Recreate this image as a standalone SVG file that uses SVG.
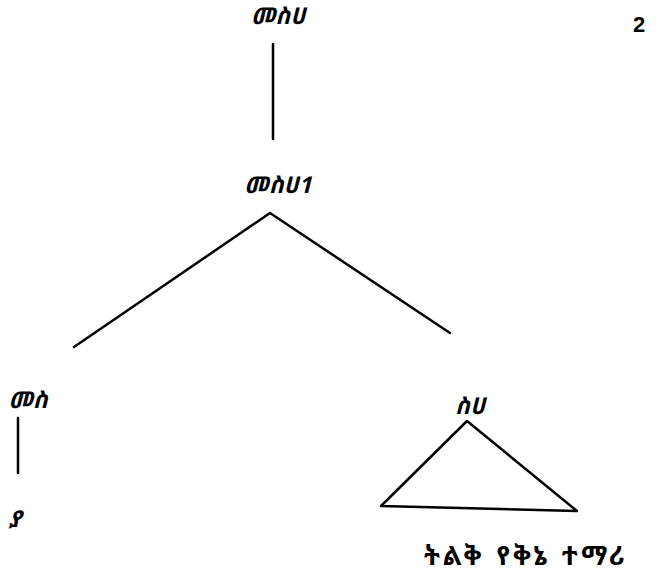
<svg xmlns="http://www.w3.org/2000/svg" width="659" height="577" viewBox="0 0 659 577">
<style>
.lbl{font-family:"Noto Sans Ethiopic","Abyssinica SIL","DejaVu Sans",sans-serif;font-weight:bold;font-style:italic;font-size:23px;fill:#000;text-anchor:middle}
.up{font-style:normal;font-size:26px;letter-spacing:3px;word-spacing:2px;text-anchor:start}
.num{font-family:"Liberation Sans",Arial,sans-serif;font-weight:bold;font-size:22px;fill:#000}
.ln{stroke:#000;stroke-width:2.5;fill:none;stroke-linecap:round;stroke-linejoin:round}
</style>
<rect width="659" height="577" fill="#fff"/>
<text class="num" x="633" y="32">2</text>
<g id="n-root"><text class="lbl" x="278" y="24">መስሀ</text></g>
<g id="n-bar"><text class="lbl" x="278" y="193">መስሀ1</text></g>
<g id="n-left"><text class="lbl" x="28" y="408">መስ</text></g>
<g id="n-right"><text class="lbl" x="470" y="414">ስሀ</text></g>
<g id="n-ya"><text class="lbl" x="15" y="527">ያ</text></g>
<g id="n-phrase"><text class="lbl up" x="424" y="565">ትልቅ የቅኔ ተማሪ</text></g>
<g id="connectors">
<line class="ln" x1="273" y1="44" x2="273" y2="139"/>
<polyline class="ln" points="74,347 270,213 450,333"/>
<line class="ln" x1="18" y1="418" x2="18" y2="473"/>
<polygon class="ln" points="467,421 381,506 577,511"/>
</g>
</svg>
